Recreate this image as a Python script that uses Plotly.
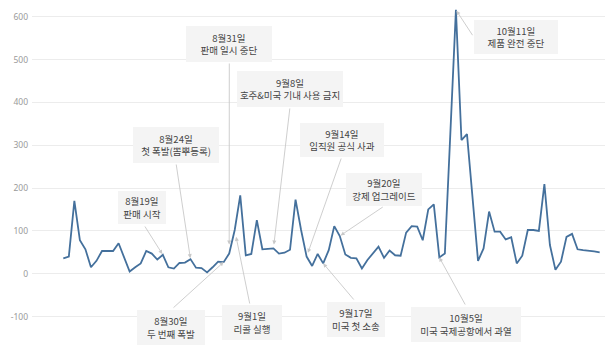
import plotly.graph_objects as go

# daily values (index = day since start of series)
values = [36, 40, 170, 78, 57, 15, 30, 53, 53, 53,
          71, 39, 5, 15, 24, 53, 47, 33, 44, 15,
          12, 25, 26, 34, 14, 13, 3, 15, 28, 27,
          47, 102, 183, 43, 46, 125, 57, 58, 59, 47,
          49, 56, 173, 102, 40, 18, 46, 24, 55, 111,
          88, 45, 37, 36, 12, 32, 47, 63, 37, 54,
          43, 42, 96, 111, 110, 78, 150, 162, 38, 47,
          330, 616, 312, 326, 178, 30, 59, 145, 98, 98,
          80, 85, 24, 42, 102, 102, 100, 209, 67, 9,
          28, 86, 93, 57, 55, 54, 52, 50]
days = list(range(len(values)))

# events: label date, description, index of the point the arrow refers to
event_dates = ["8월19일", "8월24일", "8월30일", "8월31일", "9월1일", "9월8일",
               "9월14일", "9월17일", "9월20일", "10월5일", "10월11일"]
event_texts = ["판매 시작", "첫 폭발(뽐뿌등록)", "두 번째 폭발", "판매 일시 중단", "리콜 실행",
               "호주&미국 기내 사용 금지", "임직원 공식 사과", "미국 첫 소송", "강제 업그레이드",
               "미국 국제공항에서 과열", "제품 완전 중단"]
event_idx = [18, 23, 29, 30, 31, 38, 44, 47, 50, 68, 71]

y_ticks = [-100, 0, 100, 200, 300, 400, 500, 600]

# layout geometry (pixels)
W, H = 605, 348
PL, PR = 32, 605
XR = [-5.66, 97.96]
YR = [-173.5, 639]

def px_x(px):
    return XR[0] + (px - PL) / (PR - PL) * (XR[1] - XR[0])

def py_y(py):
    return YR[1] - py / H * (YR[1] - YR[0])

# box centre (px), box size, arrow tail (px), standoff
boxes = [(141.5, 207, 48, 33), (175.7, 145, 86, 36), (171, 327.5, 68, 35),
         (229, 44, 86, 36), (251.7, 322.5, 60, 35), (290, 89, 106, 36),
         (342, 140, 84, 34), (356, 319, 58, 35), (384, 189, 76, 33),
         (466, 324, 110, 35), (516, 37, 84, 34)]
tails = [(144, 225), (176, 163), (172, 309), (229.3, 62), (250, 305), (290, 107),
         (341.7, 157), (355, 301), (384.3, 206), (466, 306), (473.5, 36.7)]
standoffs = [1, 1, 0, 9, 7, 4, 4, 0, 1, 0, 1]

fig = go.Figure()
fig.add_trace(go.Scatter(x=days, y=values, mode="lines",
                         line=dict(color="#44709c", width=1.8),
                         hoverinfo="skip", showlegend=False))

annotations = []
for d, t, i, b, tl, so in zip(event_dates, event_texts, event_idx, boxes, tails, standoffs):
    annotations.append(dict(
        x=i, y=values[i], xref="x", yref="y",
        ax=px_x(tl[0]), ay=py_y(tl[1]), axref="x", ayref="y",
        text="", showarrow=True, arrowhead=2, arrowsize=0.9, arrowwidth=0.9,
        arrowcolor="#c8c8c8", standoff=so))
    annotations.append(dict(
        x=px_x(b[0]), y=py_y(b[1]), xref="x", yref="y",
        xanchor="center", yanchor="middle", showarrow=False,
        text=d + "<br>" + t, width=b[2], height=b[3],
        bgcolor="#f4f4f4", borderpad=0, borderwidth=0,
        font=dict(family="Noto Sans CJK KR", size=9.5, color="#444444"),
        align="center", valign="middle"))

fig.update_layout(
    width=W, height=H,
    margin=dict(l=PL, r=W - PR, t=0, b=0),
    paper_bgcolor="white", plot_bgcolor="white",
    xaxis=dict(range=XR, showgrid=False, zeroline=False, showticklabels=False,
               showline=False, ticks=""),
    yaxis=dict(range=YR, tickvals=y_ticks, ticktext=[str(v) for v in y_ticks],
               showgrid=True, gridcolor="#ececec", gridwidth=1, zeroline=False,
               showline=False, ticks="",
               tickfont=dict(family="Noto Sans", size=8.5, color="#9a9a9a"),
               ticklabelstandoff=3),
    annotations=annotations,
)

fig.write_html("out.html")
